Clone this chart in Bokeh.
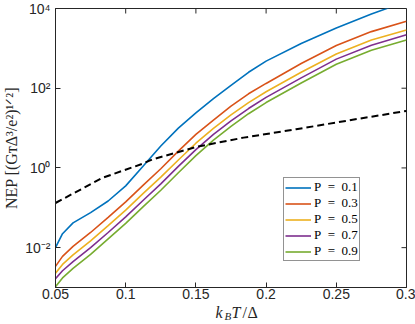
import numpy as np
from bokeh.plotting import figure
from bokeh.models import Range1d, FixedTicker, CustomJSTickFormatter, Legend, LegendItem, Label
from bokeh.layouts import column
from bokeh.embed import file_html
from bokeh.resources import INLINE

# ---- data (NEP given as log10 values) ----
kT = [0.05, 0.055, 0.0625, 0.075, 0.0875, 0.1, 0.1125, 0.125, 0.1375, 0.15,
      0.1625, 0.175, 0.1875, 0.2, 0.225, 0.25, 0.275, 0.3]
log_nep_p01 = [-2.00, -1.65, -1.38, -1.12, -0.83, -0.45, 0.05, 0.55, 1.00, 1.38,
               1.74, 2.07, 2.40, 2.68, 3.12, 3.51, 3.86, 4.18]
log_nep_p03 = [-2.47, -2.22, -1.97, -1.62, -1.24, -0.85, -0.43, -0.02, 0.42, 0.84,
               1.20, 1.55, 1.86, 2.12, 2.62, 3.07, 3.42, 3.68]
log_nep_p05 = [-2.64, -2.42, -2.18, -1.83, -1.45, -1.06, -0.64, -0.23, 0.20, 0.62,
               0.99, 1.33, 1.64, 1.91, 2.40, 2.86, 3.21, 3.46]
log_nep_p07 = [-2.78, -2.58, -2.35, -2.00, -1.62, -1.23, -0.81, -0.40, 0.04, 0.46,
               0.84, 1.18, 1.49, 1.77, 2.26, 2.73, 3.08, 3.34]
log_nep_p09 = [-2.98, -2.76, -2.52, -2.17, -1.78, -1.39, -0.97, -0.56, -0.12, 0.31,
               0.70, 1.04, 1.36, 1.64, 2.13, 2.60, 2.95, 3.21]
kT_ref = [0.05, 0.0833, 0.1116, 0.1187, 0.1506, 0.184, 0.2214, 0.2567, 0.3]
log_nep_ref = [-0.88, -0.25, 0.10, 0.21, 0.53, 0.76, 0.97, 1.18, 1.43]

labels = ["P\u2002=\u20020.1", "P\u2002=\u20020.3", "P\u2002=\u20020.5",
          "P\u2002=\u20020.7", "P\u2002=\u20020.9"]
colors = ["#0072BD", "#D95319", "#EDB120", "#7E2F8E", "#77AC30"]
series = [log_nep_p01, log_nep_p03, log_nep_p05, log_nep_p07, log_nep_p09]

x_lim = [0.05, 0.3]
y_lim = [1e-3, 1e4]
x_ticks = [0.05, 0.1, 0.15, 0.2, 0.25, 0.3]
y_ticks = [1e-2, 1e0, 1e2, 1e4]
y_title = "NEP [(G\u1d1b\u0394\u00b3/e\u00b2)\u00b9\u141f\u00b2]"

AX = "#262626"
SERIF = "Liberation Serif"
W, H = 415, 324
MAIN_H = 304
LEFT, RIGHT = 53, 9

# ---------------- main plot ----------------
p = figure(width=W, height=MAIN_H, output_backend="svg", toolbar_location=None,
           y_axis_type="log", x_range=Range1d(*x_lim), y_range=Range1d(*y_lim),
           min_border_left=LEFT, min_border_right=RIGHT, min_border_top=8,
           min_border_bottom=17)
p.grid.visible = False
p.outline_line_color = AX
p.outline_line_alpha = 1.0
p.outline_line_width = 1
p.background_fill_color = "white"
p.border_fill_color = "white"

p.xaxis.ticker = FixedTicker(ticks=x_ticks)
p.xaxis.formatter = CustomJSTickFormatter(code="return String(parseFloat(tick.toFixed(2)));")
p.yaxis.ticker = FixedTicker(ticks=y_ticks)
p.yaxis.formatter = CustomJSTickFormatter(code="""
const e = Math.round(Math.log10(tick));
const sup = {'-':'\u207b','0':'\u2070','1':'\u00b9','2':'\u00b2','3':'\u00b3','4':'\u2074',
             '5':'\u2075','6':'\u2076','7':'\u2077','8':'\u2078','9':'\u2079'};
return '10' + String(e).split('').map(c => sup[c]).join('');
""")
for ax in list(p.xaxis) + list(p.yaxis):
    ax.axis_line_color = AX
    ax.major_tick_line_color = AX
    ax.major_tick_in = 5
    ax.major_tick_out = 0
    ax.minor_tick_line_color = None
    ax.major_label_text_font = "Liberation Sans"
    ax.major_label_text_font_size = "14px"
    ax.major_label_text_color = AX
p.xaxis.major_label_standoff = 1
p.yaxis.major_label_standoff = 5
p.yaxis.axis_label = y_title
p.yaxis.axis_label_text_font = SERIF
p.yaxis.axis_label_text_font_size = "16px"
p.yaxis.axis_label_text_font_style = "normal"
p.yaxis.axis_label_text_color = AX
p.yaxis.axis_label_standoff = 2

# inward ticks on the top and right edges of the box
p.ray(x=x_ticks, y=[y_lim[1]] * len(x_ticks), length=5, length_units="screen",
      angle=-np.pi / 2, line_color=AX, line_width=1)
p.ray(x=[x_lim[1]] * len(y_ticks), y=y_ticks, length=5, length_units="screen",
      angle=np.pi, line_color=AX, line_width=1)

items = []
for lab, col, s in zip(labels, colors, series):
    r = p.line(kT, np.power(10.0, s), line_color=col, line_width=1.6)
    items.append(LegendItem(label=lab, renderers=[r]))

p.line(kT_ref, np.power(10.0, log_nep_ref), line_color="black", line_width=2,
       line_dash="7 4")

legend = Legend(items=items, location=(228, 26), orientation="vertical",
                label_text_font=SERIF, label_text_font_size="13px",
                label_text_color="black", glyph_width=26, glyph_height=15,
                label_height=15, label_standoff=3, spacing=0, padding=1, margin=0,
                border_line_color=AX, border_line_width=1, background_fill_alpha=1)
p.add_layout(legend, "center")

# ---------------- x-axis label strip: k_B T / Δ ----------------
xl = figure(width=W, height=H - MAIN_H, output_backend="svg", toolbar_location=None,
            x_range=Range1d(0, 1), y_range=Range1d(0, 1),
            x_axis_type=None, y_axis_type=None, min_border_left=LEFT,
            min_border_right=RIGHT, min_border_top=0, min_border_bottom=0)
xl.outline_line_color = None
xl.background_fill_color = "white"
xl.border_fill_color = "white"


def piece(text, x, y, size, style="normal"):
    # x: page x of the glyph start, y: page y of the baseline
    xl.add_layout(Label(x=x - LEFT, y=H - y, x_units="screen", y_units="screen",
                        text=text, text_font=SERIF, text_font_size=f"{size}px",
                        text_font_style=style, text_color=AX,
                        text_align="left", text_baseline="alphabetic"))


piece("k", 213, 312, 16, "italic")
piece("B", 222, 315, 11, "italic")
piece("T", 229, 312, 16, "italic")
piece("/", 240, 312, 16, "normal")
piece("\u0394", 245, 312, 16, "normal")

layout = column(p, xl, spacing=0)
open("out.html", "w").write(file_html(layout, INLINE))
